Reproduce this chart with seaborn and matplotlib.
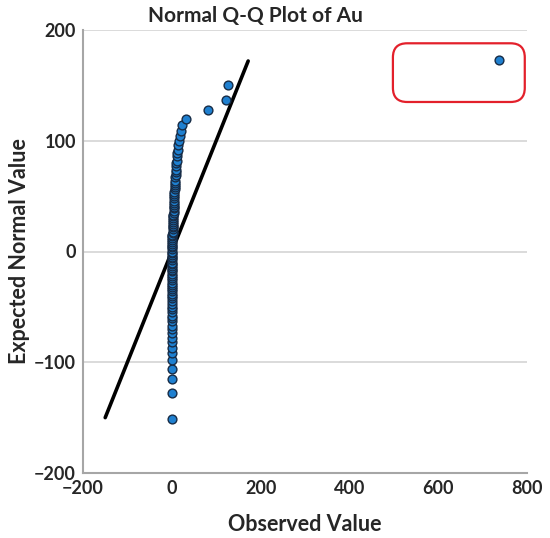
import matplotlib
matplotlib.use("Agg")
import matplotlib.pyplot as plt
import pandas as pd
import seaborn as sns
from matplotlib.patches import FancyBboxPatch

# expected normal values (sorted)
expected = [
    -151, -128, -115, -106, -98, -92, -87, -82, -78, -74,
    -70, -67, -63, -60, -58, -55, -52, -50, -47, -45,
    -42, -40, -38, -36, -34, -32, -30, -28, -26, -24,
    -22, -20, -18, -17, -15, -13, -11, -10, -8, -6,
    -5, -3, -1, 0, 2, 4, 5, 7, 9, 10,
    12, 14, 15, 17, 18, 20, 22, 23, 25, 27,
    28, 30, 32, 33, 35, 37, 39, 40, 42, 44,
    46, 48, 50, 52, 54, 56, 58, 60, 62, 64,
    67, 69, 72, 74, 77, 80, 82, 86, 89, 92,
    96, 100, 104, 109, 114, 120, 128, 137, 150, 173,
]
# observed Au values (sorted)
observed = [
    0, 0, 0, 0, 0, 0, 0, 0, 0, 0,
    0, 0, 0, 0, 0, 0, 0, 0, 0, 0,
    0, 0, 0, 0, 0, 0, 0, 0, 0, 0,
    0.5, 0.5, 0.5, 0.5, 0.5, 0.5, 0.5, 0.5, 0.5, 0.5,
    1, 1, 1, 1, 1, 1, 1, 1, 1, 1,
    1.5, 1.5, 1.5, 2, 2, 2, 2, 2.5, 2.5, 3,
    3, 3, 3.5, 3.5, 4, 4, 4, 4.5, 4.5, 5,
    5, 5.5, 5.5, 6, 6, 6.5, 7, 7, 7.5, 8,
    8, 8.5, 9, 9.5, 10, 10.5, 11, 12, 12.5, 13,
    14, 16, 18, 21, 24, 32, 81, 122, 127, 737,
]
ref_x = [-150, 172]
ref_y = [-150, 172]

x_ticks = [-200, 0, 200, 400, 600, 800]
y_ticks = [-200, -100, 0, 100, 200]

df = pd.DataFrame({"observed": observed, "expected": expected})
ref_df = pd.DataFrame({"x": ref_x, "y": ref_y})

sns.set_style("white")
plt.rcParams["font.family"] = ["Lato", "DejaVu Sans"]
plt.rcParams["font.weight"] = "bold"

fig = plt.figure(figsize=(5.5, 5.38), dpi=100)
ax = fig.add_axes([83 / 550, 65 / 538, 444 / 550, 443 / 538])

ax.grid(axis="y", color="#d4d4d4", linewidth=1.2)
ax.set_axisbelow(True)

sns.lineplot(data=ref_df, x="x", y="y", color="black", linewidth=2.6, ax=ax, zorder=2)
sns.scatterplot(data=df, x="observed", y="expected", s=40, color="#1f80d0",
                edgecolor="#172c46", linewidth=1.0, ax=ax, zorder=3)

ax.set_xlim(-200, 800)
ax.set_ylim(-200, 200)
ax.set_xticks(x_ticks)
ax.set_yticks(y_ticks)
ax.set_xticklabels([str(t).replace("-", "\u2212") for t in x_ticks], fontsize=13, fontweight="bold")
ax.set_yticklabels([str(t).replace("-", "\u2212") for t in y_ticks], fontsize=13, fontweight="bold")
ax.tick_params(length=0, pad=5)

for side in ["top", "right"]:
    ax.spines[side].set_visible(False)
for side in ["left", "bottom"]:
    ax.spines[side].set_color("#a6a6a6")
    ax.spines[side].set_linewidth(1.5)

ax.set_xlabel("Observed Value", fontsize=15.5, fontweight="bold", labelpad=12)
ax.set_ylabel("Expected Normal Value", fontsize=15.5, fontweight="bold", labelpad=3)

fig.text(255 / 550, 1 - 16 / 538, "Normal Q-Q Plot of Au", ha="center", va="center",
         fontsize=15, fontweight="bold")

# red highlight around the outlier
box = FancyBboxPatch((498, 135), 297, 53,
                     boxstyle="round,pad=0,rounding_size=32",
                     mutation_aspect=0.4, facecolor="none",
                     edgecolor="#e3202b", linewidth=1.6,
                     transform=ax.transData, clip_on=False, zorder=4)
ax.add_patch(box)

fig.savefig("out.png", dpi=100)
